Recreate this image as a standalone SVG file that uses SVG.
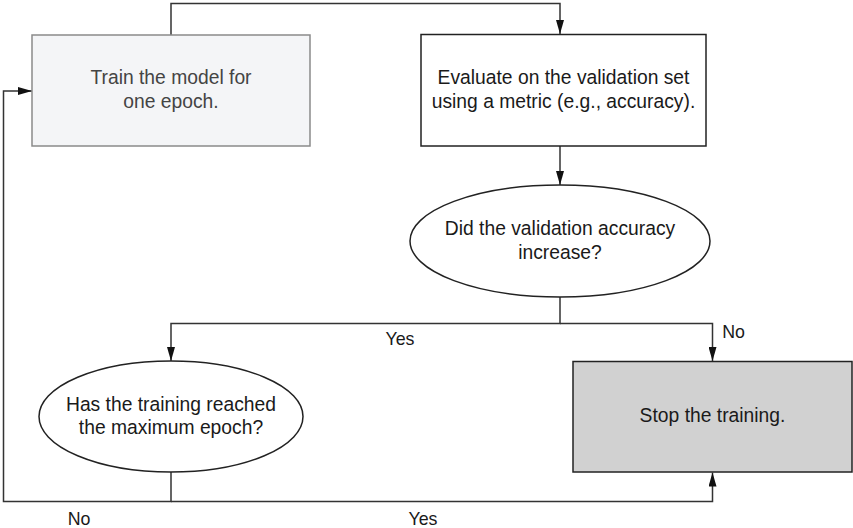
<svg xmlns="http://www.w3.org/2000/svg" width="853" height="528" viewBox="0 0 853 528">
<style>
text{font-family:"Liberation Sans",Arial,sans-serif;font-size:19.3px;fill:#1a1a1a;text-anchor:middle}
text.lbl{font-size:17.8px}
.ln{fill:none;stroke:#333;stroke-width:1.5}
.box{stroke:#222;stroke-width:1.5}
</style>
<defs>
<marker id="ah" viewBox="0 0 14 8" refX="14" refY="4" markerWidth="14" markerHeight="8" markerUnits="userSpaceOnUse" orient="auto">
<path d="M0,0 L14,4 L0,8 Z" fill="#111"/>
</marker>
</defs>
<rect width="853" height="528" fill="#fff"/>
<g id="connectors">
<path class="ln" d="M171,35 V3.5 H560 V34" marker-end="url(#ah)"/>
<path class="ln" d="M560,146 V185" marker-end="url(#ah)"/>
<path class="ln" d="M560,297 V323.5 H171 V361" marker-end="url(#ah)"/>
<path class="ln" d="M560,323.5 H712.5 V361" marker-end="url(#ah)"/>
<path class="ln" d="M171,472 V501.5 H3.5 V91 H32" marker-end="url(#ah)"/>
<path class="ln" d="M171,501.5 H712.5 V472.5" marker-end="url(#ah)"/>
<text class="lbl" x="400" y="345">Yes</text>
<text class="lbl" x="733.5" y="338">No</text>
<text class="lbl" x="79" y="525">No</text>
<text class="lbl" x="423" y="525">Yes</text>
</g>
<g id="train">
<rect x="32" y="35" width="278" height="111" fill="#f4f5f7" stroke="#8a8a8a" stroke-width="1.5"/>
<text x="171" y="84" style="fill:#444">Train the model for</text>
<text x="171" y="108" style="fill:#444">one epoch.</text>
</g>
<g id="evaluate">
<rect class="box" x="421" y="34.5" width="285" height="111.5" fill="#fff"/>
<text x="563.5" y="84">Evaluate on the validation set</text>
<text x="563.5" y="108">using a metric (e.g., accuracy).</text>
</g>
<g id="increase">
<ellipse class="box" cx="560" cy="241" rx="150" ry="56" fill="#fff"/>
<text x="560" y="235">Did the validation accuracy</text>
<text x="560" y="259">increase?</text>
</g>
<g id="maxepoch">
<ellipse class="box" cx="171" cy="416.5" rx="132" ry="55.5" fill="#fff"/>
<text x="171" y="411">Has the training reached</text>
<text x="171" y="434">the maximum epoch?</text>
</g>
<g id="stop">
<rect class="box" x="573" y="361.5" width="279" height="110.5" fill="#d1d1d1"/>
<text x="712.5" y="422">Stop the training.</text>
</g>
</svg>
